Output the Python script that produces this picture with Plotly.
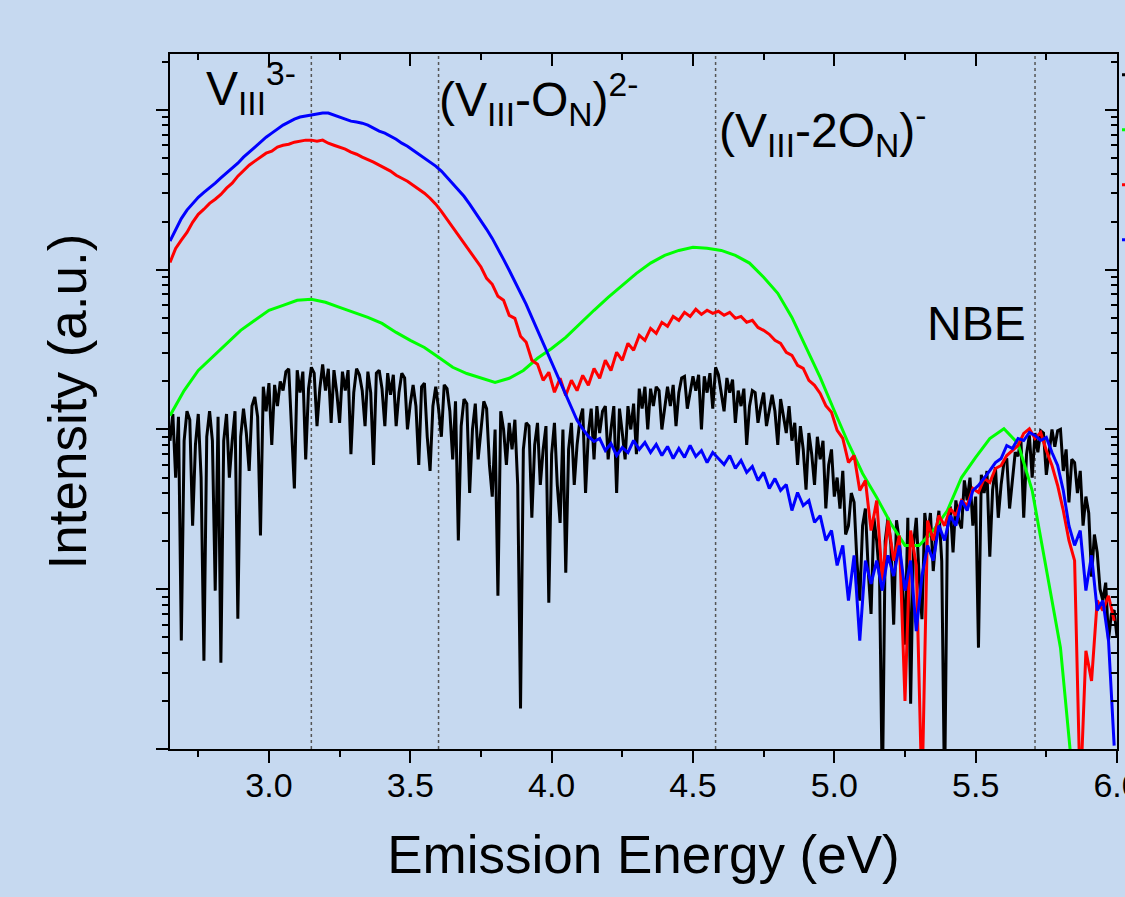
import plotly.graph_objects as go

# ---------------- data ----------------
energy = [
    2.65, 2.67, 2.69, 2.71, 2.73, 2.75, 2.77, 2.79, 2.81, 2.83,
    2.85, 2.87, 2.89, 2.91, 2.93, 2.95, 2.97, 2.99, 3.01, 3.03,
    3.05, 3.07, 3.09, 3.11, 3.13, 3.15, 3.17, 3.19, 3.21, 3.23,
    3.25, 3.27, 3.29, 3.31, 3.33, 3.35, 3.37, 3.39, 3.41, 3.43,
    3.45, 3.47, 3.49, 3.51, 3.53, 3.55, 3.57, 3.59, 3.61, 3.63,
    3.65, 3.67, 3.69, 3.71, 3.73, 3.75, 3.77, 3.79, 3.81, 3.83,
    3.85, 3.87, 3.89, 3.91, 3.93, 3.95, 3.97, 3.99, 4.01, 4.03,
    4.05, 4.07, 4.09, 4.11, 4.13, 4.15, 4.17, 4.19, 4.21, 4.23,
    4.25, 4.27, 4.29, 4.31, 4.33, 4.35, 4.37, 4.39, 4.41, 4.43,
    4.45, 4.47, 4.49, 4.51, 4.53, 4.55, 4.57, 4.59, 4.61, 4.63,
    4.65, 4.67, 4.69, 4.71, 4.73, 4.75, 4.77, 4.79, 4.81, 4.83,
    4.85, 4.87, 4.89, 4.91, 4.93, 4.95, 4.97, 4.99, 5.01, 5.03,
    5.05, 5.07, 5.09, 5.11, 5.13, 5.15, 5.17, 5.19, 5.21, 5.23,
    5.25, 5.27, 5.29, 5.31, 5.33, 5.35, 5.37, 5.39, 5.41, 5.43,
    5.45, 5.47, 5.49, 5.51, 5.53, 5.55, 5.57, 5.59, 5.61, 5.63,
    5.65, 5.67, 5.69, 5.71, 5.73, 5.75, 5.77, 5.79, 5.81, 5.83,
    5.85, 5.87, 5.89, 5.91, 5.93, 5.95, 5.97, 5.99,
]

black_energy = [
    2.65, 2.66, 2.67, 2.68, 2.69, 2.70, 2.71, 2.72, 2.73, 2.74, 2.75, 2.76, 2.77, 2.78, 2.79, 2.80, 2.81, 2.82, 2.83, 2.84,
    2.85, 2.86, 2.87, 2.88, 2.89, 2.90, 2.91, 2.92, 2.93, 2.94, 2.95, 2.96, 2.97, 2.98, 2.99, 3.00, 3.01, 3.02, 3.03, 3.04,
    3.05, 3.06, 3.07, 3.08, 3.09, 3.10, 3.11, 3.12, 3.13, 3.14, 3.15, 3.16, 3.17, 3.18, 3.19, 3.20, 3.21, 3.22, 3.23, 3.24,
    3.25, 3.26, 3.27, 3.28, 3.29, 3.30, 3.31, 3.32, 3.33, 3.34, 3.35, 3.36, 3.37, 3.38, 3.39, 3.40, 3.41, 3.42, 3.43, 3.44,
    3.45, 3.46, 3.47, 3.48, 3.49, 3.50, 3.51, 3.52, 3.53, 3.54, 3.55, 3.56, 3.57, 3.58, 3.59, 3.60, 3.61, 3.62, 3.63, 3.64,
    3.65, 3.66, 3.67, 3.68, 3.69, 3.70, 3.71, 3.72, 3.73, 3.74, 3.75, 3.76, 3.77, 3.78, 3.79, 3.80, 3.81, 3.82, 3.83, 3.84,
    3.85, 3.86, 3.87, 3.88, 3.89, 3.90, 3.91, 3.92, 3.93, 3.94, 3.95, 3.96, 3.97, 3.98, 3.99, 4.00, 4.01, 4.02, 4.03, 4.04,
    4.05, 4.06, 4.07, 4.08, 4.09, 4.10, 4.11, 4.12, 4.13, 4.14, 4.15, 4.16, 4.17, 4.18, 4.19, 4.20, 4.21, 4.22, 4.23, 4.24,
    4.25, 4.26, 4.27, 4.28, 4.29, 4.30, 4.31, 4.32, 4.33, 4.34, 4.35, 4.36, 4.37, 4.38, 4.39, 4.40, 4.41, 4.42, 4.43, 4.44,
    4.45, 4.46, 4.47, 4.48, 4.49, 4.50, 4.51, 4.52, 4.53, 4.54, 4.55, 4.56, 4.57, 4.58, 4.59, 4.60, 4.61, 4.62, 4.63, 4.64,
    4.65, 4.66, 4.67, 4.68, 4.69, 4.70, 4.71, 4.72, 4.73, 4.74, 4.75, 4.76, 4.77, 4.78, 4.79, 4.80, 4.81, 4.82, 4.83, 4.84,
    4.85, 4.86, 4.87, 4.88, 4.89, 4.90, 4.91, 4.92, 4.93, 4.94, 4.95, 4.96, 4.97, 4.98, 4.99, 5.00, 5.01, 5.02, 5.03, 5.04,
    5.05, 5.06, 5.07, 5.08, 5.09, 5.10, 5.11, 5.12, 5.13, 5.14, 5.15, 5.16, 5.17, 5.18, 5.19, 5.20, 5.21, 5.22, 5.23, 5.24,
    5.25, 5.26, 5.27, 5.28, 5.29, 5.30, 5.31, 5.32, 5.33, 5.34, 5.35, 5.36, 5.37, 5.38, 5.39, 5.40, 5.41, 5.42, 5.43, 5.44,
    5.45, 5.46, 5.47, 5.48, 5.49, 5.50, 5.51, 5.52, 5.53, 5.54, 5.55, 5.56, 5.57, 5.58, 5.59, 5.60, 5.61, 5.62, 5.63, 5.64,
    5.65, 5.66, 5.67, 5.68, 5.69, 5.70, 5.71, 5.72, 5.73, 5.74, 5.75, 5.76, 5.77, 5.78, 5.79, 5.80, 5.81, 5.82, 5.83, 5.84,
    5.85, 5.86, 5.87, 5.88, 5.89, 5.90, 5.91, 5.92, 5.93, 5.94, 5.95, 5.96, 5.97, 5.98, 5.99, 6.00,
]

black_intensity = [
    0.85, 1.25, 0.50, 1.20, 0.0477, 0.85, 1.30, 1.15, 0.25, 0.80, 1.25, 0.50, 0.0357, 0.90, 1.30, 0.85, 0.098, 1.20, 0.0347, 0.85,
    1.25, 0.50, 0.85, 1.30, 0.0654, 0.90, 1.35, 0.95, 0.55, 1.40, 1.60, 1.20, 0.217, 1.85, 1.30, 1.95, 0.80, 1.90, 1.40, 2.00,
    1.75, 2.30, 2.40, 1.10, 0.427, 2.35, 1.70, 2.30, 0.65, 1.80, 2.45, 2.25, 1.05, 1.80, 2.55, 1.75, 2.40, 1.10, 2.35, 1.70,
    1.10, 2.30, 1.75, 2.35, 0.70, 1.70, 2.40, 2.20, 1.75, 1.05, 2.30, 1.70, 0.60, 2.25, 2.35, 1.80, 1.05, 2.25, 1.65, 2.20,
    1.05, 1.70, 2.25, 2.10, 1.00, 1.45, 1.90, 1.40, 0.60, 1.85, 1.95, 0.90, 0.55, 1.40, 1.85, 1.35, 0.90, 1.90, 1.80, 1.30,
    0.65, 1.50, 0.202, 1.05, 1.55, 1.45, 0.40, 1.00, 1.45, 0.65, 1.05, 1.50, 1.35, 0.60, 0.38, 1.00, 0.0912, 1.30, 1.00, 0.60,
    1.10, 0.75, 1.15, 0.45, 0.0179, 0.75, 1.10, 1.05, 0.28, 0.80, 1.10, 0.45, 0.75, 1.05, 0.0824, 0.70, 1.10, 0.45, 0.26, 1.00,
    0.127, 0.75, 1.10, 0.45, 0.80, 1.15, 1.35, 0.40, 0.95, 1.35, 0.65, 1.40, 0.95, 1.30, 1.40, 0.65, 1.00, 1.40, 0.40, 1.35,
    0.95, 0.65, 1.40, 1.00, 1.45, 0.70, 1.80, 1.35, 1.85, 1.00, 1.80, 1.40, 1.85, 1.75, 1.00, 1.35, 1.85, 1.40, 1.90, 1.05,
    1.70, 2.10, 2.15, 1.35, 1.70, 2.15, 1.75, 2.20, 1.00, 2.15, 1.70, 2.25, 1.35, 2.45, 2.20, 1.70, 1.30, 2.10, 1.70, 2.05,
    1.10, 1.75, 1.40, 1.80, 0.80, 1.40, 1.75, 1.70, 1.10, 1.40, 1.70, 1.05, 1.35, 1.65, 1.30, 0.80, 1.55, 1.20, 0.95, 1.40,
    0.85, 1.10, 0.60, 1.05, 0.75, 0.42, 0.95, 0.70, 0.45, 0.90, 0.65, 0.85, 0.32, 0.60, 0.75, 0.38, 0.50, 0.32, 0.55, 0.22,
    0.25, 0.40, 0.35, 0.15, 0.0849, 0.25, 0.32, 0.13, 0.07, 0.28, 0.20, 0.12, 0.005, 0.20, 0.28, 0.19, 0.06, 0.27, 0.20, 0.11,
    0.045, 0.28, 0.0192, 0.19, 0.28, 0.12, 0.065, 0.30, 0.21, 0.30, 0.13, 0.22, 0.31, 0.15, 0.005, 0.24, 0.33, 0.17, 0.36, 0.27,
    0.24, 0.48, 0.36, 0.50, 0.25, 0.38, 0.0431, 0.52, 0.40, 0.55, 0.16, 0.42, 0.58, 0.28, 0.45, 0.62, 0.66, 0.32, 0.50, 0.72,
    0.68, 0.88, 0.28, 0.70, 0.92, 0.50, 0.95, 0.72, 0.98, 0.95, 0.52, 0.75, 1.00, 0.78, 0.98, 1.00, 0.55, 0.75, 0.35, 0.65,
    0.62, 0.40, 0.55, 0.25, 0.38, 0.30, 0.12, 0.22, 0.17, 0.10, 0.085, 0.11, 0.048, 0.07, 0.074, 0.05,
]

red_intensity = [
    11.1, 13.6, 15.3, 17.1, 19.8, 22.2, 23.9, 26.0, 27.6, 29.6,
    32.4, 34.8, 38.5, 42.0, 45.1, 47.8, 50.6, 53.6, 55.2, 58.5,
    60.1, 61.0, 62.8, 63.7, 64.7, 64.7, 63.7, 64.7, 61.9, 60.1,
    58.5, 56.8, 54.4, 52.8, 50.6, 49.1, 47.1, 45.1, 43.2, 41.4,
    39.0, 37.5, 35.8, 33.8, 31.9, 30.1, 28.0, 25.7, 23.2, 20.7,
    18.4, 16.4, 14.6, 13.0, 11.6, 10.4, 8.83, 8.10, 6.81, 6.43,
    5.18, 4.96, 3.83, 3.51, 2.71, 2.56, 2.03, 2.28, 1.71, 2.09,
    1.63, 2.03, 1.75, 2.18, 1.89, 2.41, 2.09, 2.71, 2.34, 3.04,
    2.71, 3.46, 3.13, 3.88, 3.61, 4.29, 3.99, 4.68, 4.42, 5.10,
    4.82, 5.41, 5.10, 5.65, 5.25, 5.57, 5.33, 5.49, 5.18, 5.41,
    4.96, 5.10, 4.68, 4.82, 4.35, 4.17, 3.94, 3.61, 3.46, 3.04,
    2.91, 2.52, 2.41, 2.03, 1.89, 1.68, 1.41, 1.28, 0.986, 0.878,
    0.621, 0.687, 0.415, 0.479, 0.233, 0.359, 0.113, 0.269, 0.151, 0.217,
    0.0200, 0.233, 0.141, 0.005, 0.269, 0.202, 0.289, 0.250, 0.320, 0.289,
    0.359, 0.334, 0.427, 0.403, 0.493, 0.466, 0.570, 0.595, 0.687, 0.738,
    0.794, 0.944, 1.01, 0.878, 0.958, 0.738, 0.595, 0.446, 0.311, 0.202,
    0.151, 0.005, 0.0412, 0.0267, 0.0849, 0.0737, 0.0910, 0.0635,
]

blue_intensity = [
    15.1, 17.7, 20.9, 23.6, 26.0, 28.4, 30.5, 32.4, 34.8, 37.5,
    40.2, 43.2, 46.4, 50.6, 54.4, 58.5, 62.8, 67.5, 71.6, 75.9,
    80.4, 83.9, 87.6, 90.2, 91.5, 92.8, 94.1, 95.5, 95.5, 92.8,
    90.2, 87.6, 85.1, 83.9, 82.6, 80.4, 77.0, 73.7, 71.6, 68.5,
    65.6, 61.9, 59.3, 56.0, 52.8, 49.9, 47.1, 44.5, 41.4, 37.9,
    34.8, 31.4, 28.8, 25.7, 22.9, 20.4, 17.9, 15.7, 13.6, 11.6,
    9.92, 8.46, 7.21, 6.06, 5.03, 4.17, 3.46, 2.87, 2.38, 1.97,
    1.66, 1.35, 1.14, 1.01, 0.904, 0.841, 0.878, 0.738, 0.817, 0.687,
    0.771, 0.717, 0.853, 0.750, 0.829, 0.717, 0.806, 0.687, 0.783, 0.658,
    0.760, 0.668, 0.794, 0.678, 0.738, 0.621, 0.717, 0.658, 0.603, 0.687,
    0.570, 0.640, 0.538, 0.586, 0.479, 0.538, 0.427, 0.493, 0.415, 0.452,
    0.311, 0.403, 0.334, 0.359, 0.262, 0.289, 0.202, 0.233, 0.141, 0.188,
    0.0849, 0.163, 0.0476, 0.151, 0.108, 0.151, 0.098, 0.163, 0.121, 0.188,
    0.098, 0.151, 0.0546, 0.121, 0.188, 0.151, 0.250, 0.202, 0.289, 0.250,
    0.359, 0.311, 0.415, 0.446, 0.493, 0.553, 0.621, 0.658, 0.794, 0.760,
    0.878, 0.853, 0.958, 0.917, 0.853, 0.891, 0.717, 0.595, 0.415, 0.250,
    0.188, 0.233, 0.098, 0.163, 0.0737, 0.0849, 0.0476, 0.0105,
]

green_energy = [
    2.65, 2.70, 2.75, 2.80, 2.85, 2.90, 2.95, 3.00, 3.05, 3.10,
    3.15, 3.20, 3.25, 3.30, 3.35, 3.40, 3.45, 3.50, 3.55, 3.60,
    3.65, 3.70, 3.75, 3.80, 3.85, 3.90, 3.95, 4.00, 4.05, 4.10,
    4.15, 4.20, 4.25, 4.30, 4.35, 4.40, 4.45, 4.50, 4.55, 4.60,
    4.65, 4.70, 4.75, 4.80, 4.85, 4.90, 4.95, 5.00, 5.05, 5.10,
    5.15, 5.20, 5.25, 5.30, 5.35, 5.40, 5.45, 5.50, 5.55, 5.60,
    5.65, 5.70, 5.75, 5.80, 5.85, 5.90, 5.95, 6.00,
]

green_intensity = [
    1.22, 1.75, 2.34, 2.83, 3.46, 4.17, 4.82, 5.57, 5.98, 6.43,
    6.53, 6.25, 5.81, 5.41, 5.03, 4.61, 4.05, 3.61, 3.26, 2.83,
    2.45, 2.24, 2.09, 1.97, 2.09, 2.34, 2.79, 3.21, 3.77, 4.61,
    5.57, 6.71, 7.98, 9.49, 11.0, 12.3, 13.2, 13.8, 13.6, 13.2,
    12.3, 11.0, 8.96, 7.11, 5.03, 3.26, 2.12, 1.31, 0.817, 0.530,
    0.375, 0.258, 0.188, 0.188, 0.233, 0.311, 0.500, 0.668, 0.878, 1.01,
    0.817, 0.415, 0.137, 0.0431, 0.005, 0.005, 0.005, 0.005,
]

series_names = ["Sample 1", "Sample 2", "Sample 3", "Sample 4"]

transition_energies = [3.15, 3.60, 4.58, 5.71]
transition_labels = [
    "V<sub>III</sub><sup>3-</sup>",
    "(V<sub>III</sub>-O<sub>N</sub>)<sup>2-</sup>",
    "(V<sub>III</sub>-2O<sub>N</sub>)<sup>-</sup>",
    "NBE",
]

x_tick_vals = [3.0, 3.5, 4.0, 4.5, 5.0, 5.5, 6.0]
x_tick_text = ["3.0", "3.5", "4.0", "4.5", "5.0", "5.5", "6.0"]
x_minor_vals = [2.75, 3.25, 3.75, 4.25, 4.75, 5.25, 5.75]
y_decades = [0.01, 0.1, 1, 10, 100]

# ---------------- styling ----------------
FONT = "Arial, 'Liberation Sans', sans-serif"
BG = "#c6d9f0"
y_minor_vals = [m * d for d in y_decades for m in range(2, 10)]

fig = go.Figure()
for name, xs, ys, color in [
    (series_names[0], black_energy, black_intensity, "#000000"),
    (series_names[1], green_energy, green_intensity, "#00ff00"),
    (series_names[2], energy, red_intensity, "#ff0000"),
    (series_names[3], energy, blue_intensity, "#0000ff"),
]:
    fig.add_trace(go.Scatter(x=xs, y=ys, mode="lines", name=name,
                             line=dict(color=color, width=3)))

# empty helper trace so the mirrored (top / right) axes are drawn
fig.add_trace(go.Scatter(x=[], y=[], xaxis="x2", yaxis="y2",
                         showlegend=False, hoverinfo="skip"))

for e in transition_energies:
    fig.add_shape(type="line", x0=e, x1=e, y0=0, y1=1, xref="x", yref="paper",
                  line=dict(color="#555555", width=1.5, dash="dot"), layer="below")

label_pos = [(2.77, 0.951), (3.593, 0.934), (4.585, 0.890), (5.32, 0.612)]
for text, (lx, ly) in zip(transition_labels, label_pos):
    fig.add_annotation(x=lx, y=ly, xref="x", yref="paper", text=text,
                       showarrow=False, xanchor="left", yanchor="middle",
                       font=dict(family=FONT, size=48, color="black"))

axis_common = dict(showline=True, linecolor="black", linewidth=2,
                   tickcolor="black", tickwidth=2, showgrid=False, zeroline=False)

fig.update_layout(
    width=1125, height=897,
    paper_bgcolor=BG, plot_bgcolor=BG,
    margin=dict(l=170, r=8, t=54, b=148, autoexpand=False),
    font=dict(family=FONT, color="black"),
    xaxis=dict(range=[2.65, 6.0], tickmode="array", tickvals=x_tick_vals,
               ticktext=x_tick_text, ticks="outside", ticklen=12,
               tickfont=dict(size=34), ticklabeloverflow="allow",
               ticklabelstandoff=-7,
               minor=dict(tickmode="array", tickvals=x_minor_vals, ticks="outside",
                          ticklen=6, tickwidth=2, tickcolor="black"),
               title=dict(text="Emission Energy (eV)", font=dict(size=53), standoff=33),
               **axis_common),
    yaxis=dict(type="log", range=[-2, 2.35], tickmode="array", tickvals=y_decades,
               showticklabels=False, ticks="outside", ticklen=12,
               minor=dict(tickmode="array", tickvals=y_minor_vals, ticks="outside",
                          ticklen=6, tickwidth=2, tickcolor="black"),
               title=dict(text="Intensity (a.u.)", font=dict(size=53), standoff=52),
               **axis_common),
    xaxis2=dict(overlaying="x", side="top", anchor="y2", range=[2.65, 6.0],
                tickmode="array", tickvals=x_tick_vals, showticklabels=False,
                ticks="inside", ticklen=12,
                minor=dict(tickmode="array", tickvals=x_minor_vals, ticks="inside",
                           ticklen=6, tickwidth=2, tickcolor="black"),
                **axis_common),
    yaxis2=dict(overlaying="y", side="right", anchor="x2", type="log", range=[-2, 2.35],
                tickmode="array", tickvals=y_decades, showticklabels=False,
                ticks="inside", ticklen=12,
                minor=dict(tickmode="array", tickvals=y_minor_vals, ticks="inside",
                           ticklen=6, tickwidth=2, tickcolor="black"),
                **axis_common),
    showlegend=True,
    legend=dict(x=1.0, xanchor="left", y=1.017, yanchor="top",
                bgcolor="rgba(0,0,0,0)", borderwidth=0,
                font=dict(size=40, family=FONT)),
)

fig.write_html("out.html", config={"displayModeBar": False},
               post_script="document.body.style.margin='0';document.body.style.padding='0';")
